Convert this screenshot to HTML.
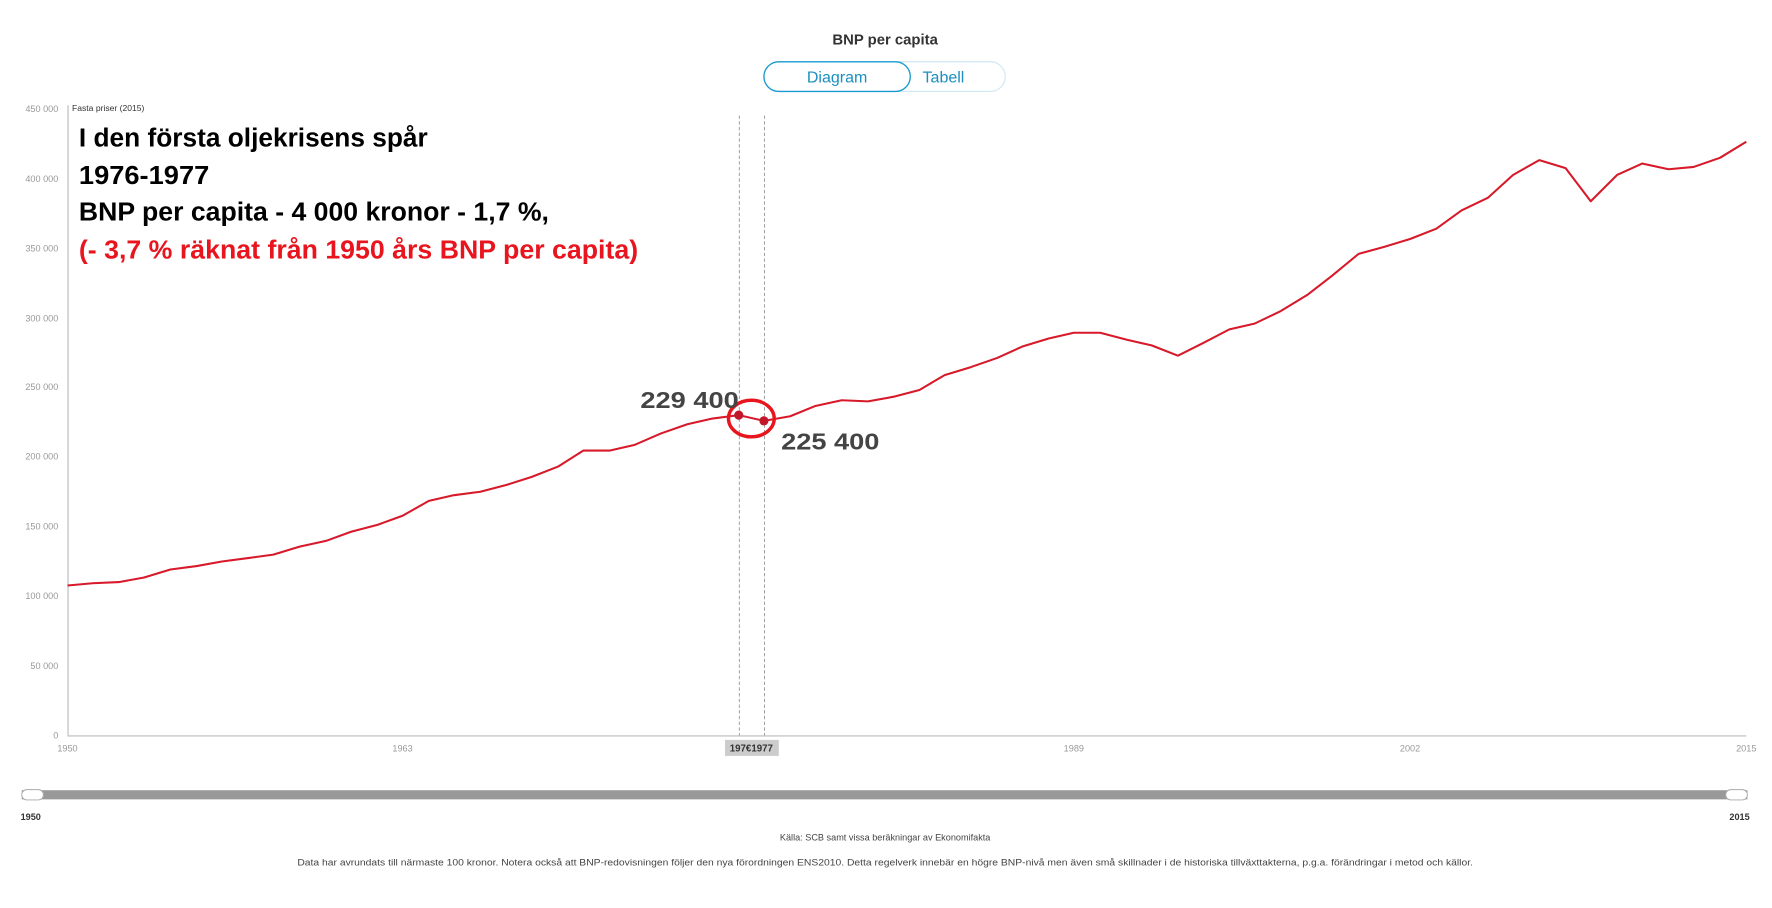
<!DOCTYPE html>
<html><head><meta charset="utf-8"><style>html,body{margin:0;padding:0;background:#fff}svg{display:block}</style></head>
<body>
<svg width="1772" height="908" viewBox="0 0 1549.5 794" preserveAspectRatio="none" xmlns="http://www.w3.org/2000/svg" font-family="'Liberation Sans', sans-serif">
<text x="774" y="39" text-anchor="middle" font-size="13" font-weight="bold" fill="#333">BNP per capita</text>
<rect x="668" y="54" width="211" height="26" rx="13" fill="#fff" stroke="#cfe8f2" stroke-width="1"/>
<rect x="668" y="54" width="128" height="26" rx="13" fill="#fff" stroke="#1a9bd0" stroke-width="1.2"/>
<text x="732" y="72" text-anchor="middle" font-size="14" fill="#1a8fc0">Diagram</text>
<text x="825" y="72" text-anchor="middle" font-size="14" fill="#1a8fc0">Tabell</text>
<g font-size="8" fill="#999" text-anchor="end">
<text x="51" y="98">450 000</text><text x="51" y="159">400 000</text><text x="51" y="220">350 000</text><text x="51" y="281">300 000</text><text x="51" y="341">250 000</text><text x="51" y="402">200 000</text><text x="51" y="463">150 000</text><text x="51" y="524">100 000</text><text x="51" y="585">50 000</text><text x="51" y="646">0</text>
</g>
<text x="63" y="97" font-size="7.5" fill="#333">Fasta priser (2015)</text>
<line x1="59.5" y1="92" x2="59.5" y2="643" stroke="#bbb"/>
<line x1="59" y1="643.5" x2="1527" y2="643.5" stroke="#bbb"/>
<g font-size="8" fill="#999" text-anchor="middle">
<text x="59" y="657">1950</text><text x="352" y="657">1963</text><text x="939" y="657">1989</text><text x="1233" y="657">2002</text><text x="1527" y="657">2015</text>
</g>
<rect x="634" y="647" width="47" height="14" fill="#ccc"/>
<text x="657" y="657" text-anchor="middle" font-size="8.5" font-weight="bold" fill="#333">197€1977</text>
<line x1="646.5" y1="101" x2="646.5" y2="643" stroke="#999" stroke-dasharray="3,2" stroke-width="0.8"/>
<line x1="668.5" y1="101" x2="668.5" y2="643" stroke="#999" stroke-dasharray="3,2" stroke-width="0.8"/>
<polyline fill="none" stroke="#d7192a" stroke-width="1.8" stroke-linejoin="round" points="59,512 81,510 104,509 126,505 149,498 172,495 194,491 217,488 239,485 262,478 285,473 307,465 330,459 352,451 375,438 397,433 420,430 443,424 465,417 488,408 510,394 533,394 555,389 578,379 601,371 623,366 646,363 668,368 691,364 713,355 736,350 759,351 781,347 804,341 826,328 849,321 872,313 894,303 917,296 939,291 962,291 985,297 1007,302 1030,311 1052,300 1075,288 1097,283 1120,272 1143,258 1165,241 1188,222 1210,216 1233,209 1256,200 1278,184 1301,173 1323,153 1346,140 1369,147 1391,176 1414,153 1436,143 1459,148 1481,146 1504,138 1527,124"/>
<circle cx="646" cy="363" r="4" fill="#c0182a"/>
<circle cx="668" cy="368" r="4" fill="#c0182a"/>
<ellipse cx="657" cy="366" rx="20" ry="16" fill="none" stroke="#e8141e" stroke-width="3"/>
<text x="560" y="357" font-size="20" font-weight="bold" fill="#444" textLength="86" lengthAdjust="spacingAndGlyphs">229 400</text>
<text x="683" y="393" font-size="20" font-weight="bold" fill="#444" textLength="86" lengthAdjust="spacingAndGlyphs">225 400</text>
<g font-size="23" font-weight="bold">
<text x="69" y="128" fill="#000" textLength="305" lengthAdjust="spacingAndGlyphs">I den första oljekrisens spår</text>
<text x="69" y="161" fill="#000" textLength="114" lengthAdjust="spacingAndGlyphs">1976-1977</text>
<text x="69" y="193" fill="#000" textLength="411" lengthAdjust="spacingAndGlyphs">BNP per capita - 4 000 kronor - 1,7 %,</text>
<text x="69" y="226" fill="#e8141e" textLength="489" lengthAdjust="spacingAndGlyphs">(- 3,7 % räknat från 1950 års BNP per capita)</text>
</g>
<rect x="19" y="691" width="1509" height="8" fill="#999"/>
<rect x="19" y="690.5" width="19" height="9" rx="4.5" fill="#fff" stroke="#aaa" stroke-width="0.8"/>
<rect x="1509" y="690.5" width="19" height="9" rx="4.5" fill="#fff" stroke="#aaa" stroke-width="0.8"/>
<text x="18" y="717" font-size="8" font-weight="bold" fill="#333">1950</text>
<text x="1530" y="717" font-size="8" font-weight="bold" fill="#333" text-anchor="end">2015</text>
<text x="774" y="735" text-anchor="middle" font-size="8" fill="#444">Källa: SCB samt vissa beräkningar av Ekonomifakta</text>
<text x="774" y="757" text-anchor="middle" font-size="8" fill="#444" textLength="1028" lengthAdjust="spacingAndGlyphs">Data har avrundats till närmaste 100 kronor. Notera också att BNP-redovisningen följer den nya förordningen ENS2010. Detta regelverk innebär en högre BNP-nivå men även små skillnader i de historiska tillväxttakterna, p.g.a. förändringar i metod och källor.</text>
</svg>
</body></html>
